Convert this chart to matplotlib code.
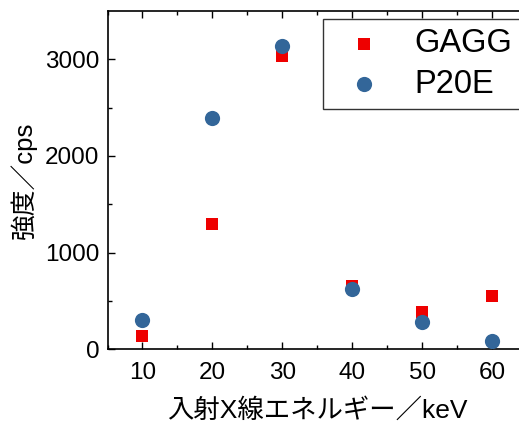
import matplotlib
matplotlib.use("Agg")
import matplotlib.pyplot as plt

energy = [10, 20, 30, 40, 50, 60]
gagg = [138, 1300, 3035, 660, 390, 550]
p20e = [303, 2390, 3137, 620, 282, 86]

plt.rcParams['font.family'] = ['Liberation Sans', 'Noto Sans CJK JP', 'DejaVu Sans']

W, H = 519, 421
fig = plt.figure(figsize=(W / 100, H / 100), dpi=100)
ax = fig.add_axes([107.5 / W, 1 - 349.3 / H, (527 - 107.5) / W, (349.3 - 11) / H])

ax.scatter(energy, gagg, marker='s', s=85, color='#ee0000', label='GAGG', zorder=3, linewidths=0)
ax.scatter(energy, p20e, marker='o', s=120, color='#336699', label='P20E', zorder=4, linewidths=0)

ax.set_xlim(5, 65)
ax.set_ylim(0, 3500)
ax.set_xticks([10, 20, 30, 40, 50, 60])
ax.set_xticks([5, 15, 25, 35, 45, 55], minor=True)
ax.set_yticks([0, 1000, 2000, 3000])
ax.set_yticks([500, 1500, 2500], minor=True)
ax.tick_params(which='both', direction='in', top=True, right=False, labelsize=17.5, width=1)
ax.tick_params(which='major', length=5)
ax.tick_params(which='minor', length=3)
ax.tick_params(axis='x', pad=9)
ax.tick_params(axis='y', pad=6)
for s in ax.spines.values():
    s.set_linewidth(1.2)

ax.set_xlabel('入射X線エネルギー／keV', fontsize=19, labelpad=10)
ax.set_ylabel('強度／cps', fontsize=18.5, labelpad=6)

leg = ax.legend(loc='upper right', bbox_to_anchor=(521 / W, 1 - 19.3 / H),
                bbox_transform=fig.transFigure, borderaxespad=0,
                fontsize=23.5, frameon=True, fancybox=False, edgecolor='black',
                handletextpad=0.53, borderpad=0.27, labelspacing=0.3, handlelength=2.0)
leg.get_frame().set_linewidth(1.0)

fig.savefig('out.png', dpi=100)
